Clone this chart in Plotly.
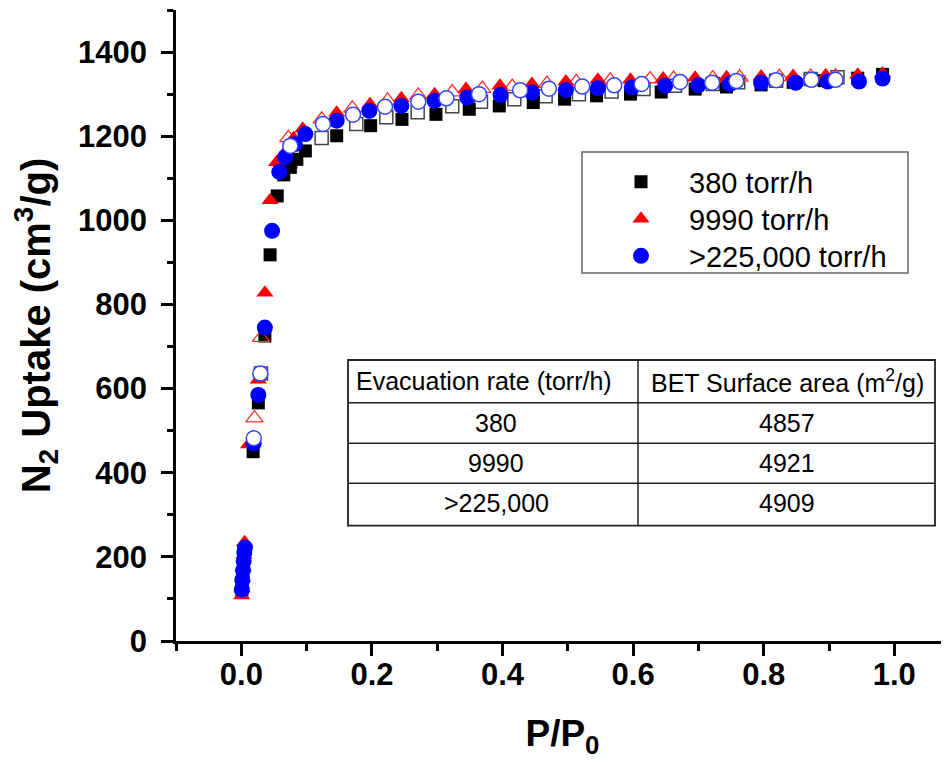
import plotly.graph_objects as go

# ---------------- data ----------------
# 380 torr/h : adsorption (filled) and desorption (open)
p_ads_380 = [0.0008, 0.0015, 0.0025, 0.0035, 0.0045, 0.018, 0.026, 0.036, 0.044, 0.055,
             0.065, 0.075, 0.085, 0.098, 0.146, 0.198, 0.246, 0.298, 0.349, 0.395,
             0.447, 0.495, 0.544, 0.596, 0.643, 0.695, 0.743, 0.796, 0.845, 0.893,
             0.944, 0.982]
n_ads_380 = [120, 140, 160, 185, 210, 450, 566, 725, 918, 1058,
             1108, 1126, 1145, 1165, 1201, 1225, 1240, 1252, 1264, 1272,
             1280, 1288, 1296, 1300, 1305, 1312, 1317, 1322, 1328, 1332,
             1338, 1347]
p_des_380 = [0.913, 0.872, 0.819, 0.761, 0.722, 0.664, 0.616, 0.567, 0.517, 0.466,
             0.418, 0.367, 0.323, 0.270, 0.222, 0.176, 0.123, 0.075, 0.030]
n_des_380 = [1340, 1336, 1332, 1328, 1324, 1320, 1312, 1306, 1300, 1295,
             1288, 1282, 1271, 1257, 1245, 1229, 1196, 1140, 636]

# 9990 torr/h
p_ads_9990 = [0.0005, 0.001, 0.002, 0.003, 0.004, 0.005, 0.011, 0.026, 0.036, 0.044,
              0.054, 0.067, 0.080, 0.094, 0.146, 0.197, 0.245, 0.296, 0.344, 0.396,
              0.445, 0.497, 0.546, 0.596, 0.646, 0.695, 0.743, 0.796, 0.845, 0.895,
              0.944, 0.982]
n_ads_9990 = [108, 125, 150, 175, 205, 235, 467, 621, 828, 1048,
              1138, 1162, 1195, 1218, 1256, 1276, 1290, 1300, 1312, 1320,
              1324, 1330, 1334, 1334, 1337, 1339, 1340, 1342, 1343, 1345,
              1346, 1349]
p_des_9990 = [0.910, 0.872, 0.824, 0.763, 0.722, 0.662, 0.626, 0.565, 0.513, 0.468,
              0.415, 0.369, 0.323, 0.271, 0.224, 0.170, 0.123, 0.072, 0.030, 0.020]
n_des_9990 = [1343, 1342, 1341, 1340, 1338, 1337, 1336, 1333, 1329, 1325,
              1318, 1313, 1305, 1297, 1285, 1266, 1240, 1196, 721, 530]

# >225,000 torr/h
p_ads_225k = [0.0008, 0.0015, 0.0025, 0.0035, 0.0045, 0.0055, 0.019, 0.026, 0.036, 0.047,
              0.058, 0.067, 0.082, 0.098, 0.146, 0.196, 0.245, 0.296, 0.346, 0.397,
              0.445, 0.497, 0.546, 0.598, 0.649, 0.700, 0.748, 0.796, 0.849, 0.898,
              0.946, 0.982]
n_ads_225k = [122, 145, 168, 190, 210, 222, 470, 585, 745, 975,
              1115, 1150, 1181, 1205, 1237, 1260, 1272, 1284, 1292, 1298,
              1304, 1310, 1314, 1316, 1320, 1321, 1324, 1327, 1327, 1330,
              1330, 1337]
p_des_225k = [0.910, 0.873, 0.819, 0.758, 0.721, 0.672, 0.613, 0.571, 0.522, 0.471,
              0.427, 0.364, 0.314, 0.271, 0.220, 0.171, 0.125, 0.075, 0.029, 0.019]
n_des_225k = [1334, 1334, 1333, 1331, 1327, 1329, 1324, 1321, 1318, 1313,
              1309, 1300, 1290, 1282, 1270, 1251, 1229, 1177, 636, 482]

series_names = ["380 torr/h", "9990 torr/h", ">225,000 torr/h"]

# table contents
table_header = ["Evacuation rate (torr/h)", "BET Surface area (m<sup>2</sup>/g)"]
table_rates = ["380", "9990", ">225,000"]
table_bet = ["4857", "4921", "4909"]

x_ticks = [0.0, 0.2, 0.4, 0.6, 0.8, 1.0]
y_ticks = [0, 200, 400, 600, 800, 1000, 1200, 1400]

# ---------------- layout geometry ----------------
OFF = 8  # default page body margin
W, H = 949 - OFF, 763 - OFF
ML, MR, MT, MB = 176 - OFF, 0, 10 - OFF, 122
PW, PH = W - ML - MR, H - MT - MB
XPX = 653.0  # pixels per unit of P/P0
x_range = [-0.1001, -0.1 + PW / XPX]
y_range = [0, 1500]


def px(xs):
    """screen x pixel -> paper fraction"""
    return (xs - OFF - ML) / PW


def py(ys):
    """screen y pixel -> paper fraction"""
    return (H - MB - (ys - OFF)) / PH


FONT = "Liberation Sans, Arial, sans-serif"

fig = go.Figure()

# draw order: open squares, filled squares, open triangles, filled triangles,
# filled circles, open circles
fig.add_trace(go.Scatter(x=p_des_380, y=n_des_380, mode="markers", showlegend=False,
                         marker=dict(symbol="square", size=13, color="white",
                                     line=dict(color="#444444", width=1.5))))
fig.add_trace(go.Scatter(x=p_ads_380, y=n_ads_380, mode="markers", name=series_names[0],
                         legend="legend",
                         marker=dict(symbol="square", size=13, color="black",
                                     line=dict(width=0))))
fig.add_trace(go.Scatter(x=p_des_9990, y=n_des_9990, mode="markers", showlegend=False,
                         marker=dict(symbol="triangle-up-open", size=15, color="#ff3030",
                                     line=dict(width=1.3))))
fig.add_trace(go.Scatter(x=p_ads_9990, y=n_ads_9990, mode="markers", name=series_names[1],
                         legend="legend2",
                         marker=dict(symbol="triangle-up", size=15, color="#ff0000",
                                     line=dict(width=0))))
fig.add_trace(go.Scatter(x=p_ads_225k, y=n_ads_225k, mode="markers", name=series_names[2],
                         legend="legend3",
                         marker=dict(symbol="circle", size=16, color="#0000ff",
                                     line=dict(width=0))))
fig.add_trace(go.Scatter(x=p_des_225k, y=n_des_225k, mode="markers", showlegend=False,
                         marker=dict(symbol="circle", size=15, color="white",
                                     line=dict(color="#3344ff", width=1.5))))

axis_common = dict(showline=True, linecolor="black", linewidth=2.5, mirror=False,
                   ticks="outside", ticklen=12, tickwidth=2.5, tickcolor="black",
                   showgrid=False, zeroline=False,
                   tickfont=dict(family=FONT, size=31, color="black", weight="bold"))

fig.update_xaxes(range=x_range, tickvals=x_ticks, ticktext=[f"{v:.1f}" for v in x_ticks],
                 minor=dict(ticks="outside", ticklen=7, tickwidth=2.5, tickcolor="black",
                            dtick=0.1, tick0=0),
                 ticklabelstandoff=-8,
                 title=dict(text="P/P<sub>0</sub>", standoff=30,
                            font=dict(family=FONT, size=37, color="black", weight="bold")),
                 **axis_common)
fig.update_yaxes(range=y_range, tickvals=y_ticks, ticktext=[str(v) for v in y_ticks],
                 minor=dict(ticks="outside", ticklen=6, tickwidth=2.5, tickcolor="black",
                            dtick=100, tick0=0),
                 ticklabelstandoff=8,
                 title=dict(text="N<sub>2</sub> Uptake (cm<sup>3</sup>/g)", standoff=22,
                            font=dict(family=FONT, size=40, color="black", weight="bold")),
                 **axis_common)

# legend border box
shapes = [dict(type="rect", xref="paper", yref="paper",
               x0=px(582), x1=px(908), y0=py(152), y1=py(273),
               line=dict(color="#666666", width=1.5), fillcolor="rgba(0,0,0,0)")]

# table grid
tx0, tx1, txm = 348, 935, 638
row_lines = [360, 402.7, 443.3, 483.3, 525.7]
shapes.append(dict(type="rect", xref="paper", yref="paper",
                   x0=px(tx0), x1=px(tx1), y0=py(row_lines[0]), y1=py(row_lines[-1]),
                   line=dict(color="#222222", width=1.8), fillcolor="white", layer="above"))
for ry in row_lines[1:-1]:
    shapes.append(dict(type="line", xref="paper", yref="paper",
                       x0=px(tx0), x1=px(tx1), y0=py(ry), y1=py(ry),
                       line=dict(color="#222222", width=1.5), layer="above"))
shapes.append(dict(type="line", xref="paper", yref="paper",
                   x0=px(txm), x1=px(txm), y0=py(row_lines[0]), y1=py(row_lines[-1]),
                   line=dict(color="#222222", width=1.5), layer="above"))

annotations = []
tfont = dict(family=FONT, size=25, color="black")
row_centers = [381, 423, 463, 503]
annotations.append(dict(text=table_header[0], x=px(484), y=py(row_centers[0]),
                        xref="paper", yref="paper", showarrow=False, font=tfont,
                        xanchor="center", yanchor="middle"))
annotations.append(dict(text=table_header[1], x=px(787), y=py(row_centers[0]),
                        xref="paper", yref="paper", showarrow=False, font=tfont,
                        xanchor="center", yanchor="middle"))
for i in range(3):
    annotations.append(dict(text=table_rates[i], x=px(496), y=py(row_centers[i + 1]),
                            xref="paper", yref="paper", showarrow=False, font=tfont,
                            xanchor="center", yanchor="middle"))
    annotations.append(dict(text=table_bet[i], x=px(787), y=py(row_centers[i + 1]),
                            xref="paper", yref="paper", showarrow=False, font=tfont,
                            xanchor="center", yanchor="middle"))

# one legend per row so that the row spacing matches the reference
ITEMW = 86
SYM_OFF = ITEMW / 2 + 7
legend_rows = [182, 219, 256]


def legend_box(yc):
    return dict(x=px(643 - SYM_OFF), y=py(yc), xanchor="left", yanchor="middle",
                bgcolor="rgba(0,0,0,0)", borderwidth=0, itemwidth=ITEMW,
                font=dict(family=FONT, size=29, color="black"),
                itemclick=False, itemdoubleclick=False)


fig.update_layout(
    width=W, height=H,
    margin=dict(l=ML, r=MR, t=MT, b=MB, pad=0),
    paper_bgcolor="white", plot_bgcolor="white",
    showlegend=True,
    legend=legend_box(legend_rows[0]),
    legend2=legend_box(legend_rows[1]),
    legend3=legend_box(legend_rows[2]),
    shapes=shapes,
    annotations=annotations,
)

fig.write_html("out.html")
